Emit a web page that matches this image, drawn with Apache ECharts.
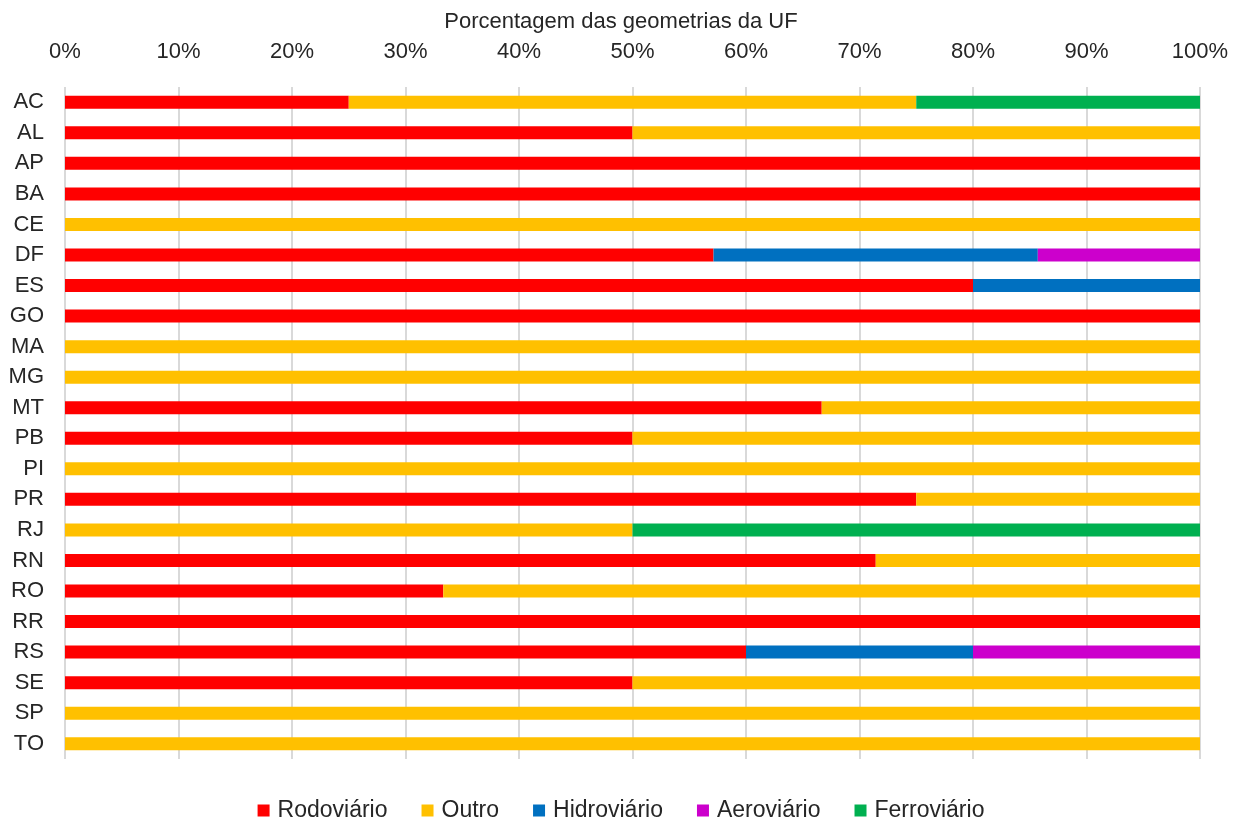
<!DOCTYPE html>
<html>
<head>
<meta charset="utf-8">
<style>
  html, body { margin: 0; padding: 0; background: #fff; }
  #chart { width: 1242px; height: 825px; }
</style>
<script src="https://cdn.jsdelivr.net/npm/echarts@6/dist/echarts.min.js"></script>
</head>
<body>
<div id="chart"></div>
<script>
// ---- dados (porcentagem por UF) ----
const ufs = ['AC', 'AL', 'AP', 'BA', 'CE', 'DF', 'ES', 'GO', 'MA', 'MG', 'MT',
  'PB', 'PI', 'PR', 'RJ', 'RN', 'RO', 'RR', 'RS', 'SE', 'SP', 'TO']
const rodoviario = [25, 50, 100, 100, 0, 57.14, 80, 100, 0, 0, 66.67,
  50, 0, 75, 0, 71.43, 33.33, 100, 60, 50, 0, 0]
const outro = [50, 50, 0, 0, 100, 0, 0, 0, 100, 100, 33.33,
  50, 100, 25, 50, 28.57, 66.67, 0, 0, 50, 100, 100]
const hidroviario = [0, 0, 0, 0, 0, 28.57, 20, 0, 0, 0, 0,
  0, 0, 0, 0, 0, 0, 0, 20, 0, 0, 0]
const aeroviario = [0, 0, 0, 0, 0, 14.29, 0, 0, 0, 0, 0,
  0, 0, 0, 0, 0, 0, 0, 20, 0, 0, 0]
const ferroviario = [25, 0, 0, 0, 0, 0, 0, 0, 0, 0, 0,
  0, 0, 0, 50, 0, 0, 0, 0, 0, 0, 0]

const font = 'Liberation Sans, Arial, sans-serif'
const textColor = '#262626'

const chart = echarts.init(document.getElementById('chart'))

function serie(name, data, color) {
  return {
    name,
    type: 'bar',
    stack: 'total',
    barWidth: 13,
    data,
    itemStyle: { color },
    emphasis: { disabled: true }
  }
}

chart.setOption({
  animation: false,
  textStyle: { fontFamily: font },
  title: {
    text: 'Porcentagem das geometrias da UF',
    left: 'center',
    top: 6,
    textStyle: { fontFamily: font, fontSize: 22, fontWeight: 'normal', color: textColor }
  },
  grid: { left: 65, right: 42, top: 87, bottom: 66 },
  legend: {
    top: 794,
    itemWidth: 12,
    itemHeight: 12,
    itemGap: 34,
    icon: 'rect',
    textStyle: { fontFamily: font, fontSize: 23, color: textColor, padding: [0, 0, 0, 3] },
    data: ['Rodoviário', 'Outro', 'Hidroviário', 'Aeroviário', 'Ferroviário']
  },
  xAxis: {
    type: 'value',
    position: 'top',
    min: 0,
    max: 100,
    interval: 10,
    axisLine: { show: false },
    axisTick: { show: false },
    axisLabel: {
      margin: 24,
      fontSize: 22,
      color: textColor,
      fontFamily: font,
      formatter: '{value}%'
    },
    splitLine: { lineStyle: { color: '#d9d9d9', width: 2 } }
  },
  yAxis: {
    type: 'category',
    inverse: true,
    data: ufs,
    axisLine: { show: false },
    axisTick: { show: false },
    axisLabel: { margin: 21, fontSize: 22, color: textColor, fontFamily: font }
  },
  series: [
    serie('Rodoviário', rodoviario, '#ff0000'),
    serie('Outro', outro, '#ffc000'),
    serie('Hidroviário', hidroviario, '#0070c0'),
    serie('Aeroviário', aeroviario, '#cc00cc'),
    serie('Ferroviário', ferroviario, '#00b050')
  ]
})
</script>
</body>
</html>
